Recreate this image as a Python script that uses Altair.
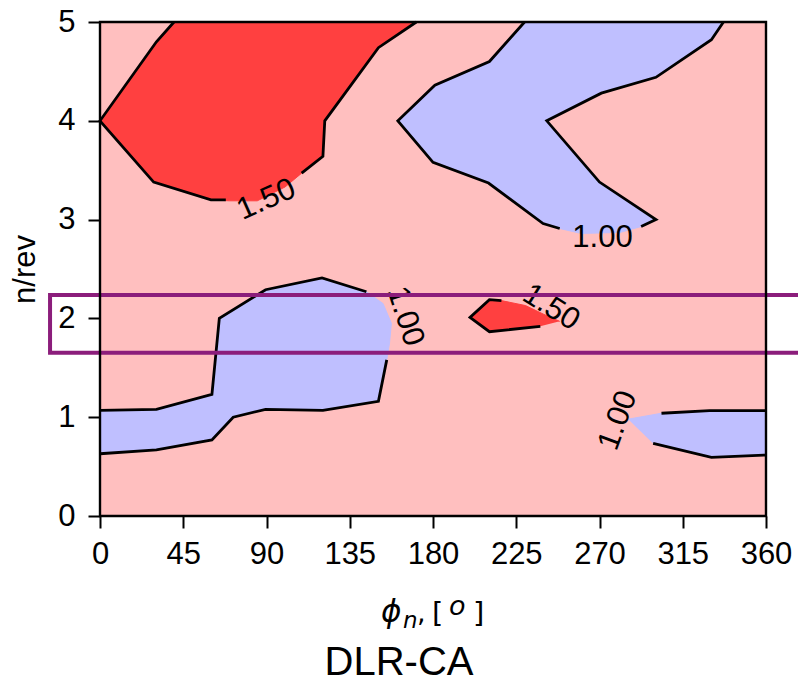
import altair as alt
import pandas as pd

# ---- filled contour regions (phi_n in degrees, n/rev) ----
# red region (level above 1.50), upper left
red_top_phi = [40, 30.5, 0, 29, 60, 70, 85, 100, 109, 120.5, 121.5, 150.5, 171]
red_top_n = [5.0, 4.8, 4.0, 3.38, 3.2, 3.19, 3.19, 3.33, 3.47, 3.64, 4.0, 4.74, 5.0]

# small red island near 2/rev
red_mid_phi = [238, 210.5, 200, 210.5, 217, 230, 240, 248.5]
red_mid_n = [1.92, 1.865, 2.01, 2.19, 2.18, 2.13, 2.04, 1.97]

# blue region (level below 1.00), upper right
blue_top_phi = [229.5, 210.5, 181, 161, 180, 210, 239.5, 248.5, 260, 281,
                292.5, 300.5, 270, 241.5, 271, 300.5, 330.5, 337]
blue_top_n = [5.0, 4.6, 4.36, 4.0, 3.58, 3.37, 2.96, 2.91, 2.86, 2.87,
              2.93, 3.0, 3.38, 4.0, 4.28, 4.44, 4.82, 5.0]

# blue band, left
blue_left_phi = [0, 30.5, 60.5, 64.5, 89.5, 120, 144, 153, 157.5, 156.5,
                 155, 150.5, 120.5, 89.5, 72, 60.5, 30.5, 0]
blue_left_n = [1.07, 1.08, 1.23, 2.0, 2.29, 2.41, 2.27, 2.15, 1.95, 1.75,
               1.58, 1.16, 1.07, 1.08, 1.0, 0.77, 0.67, 0.63]

# blue band, lower right
blue_right_phi = [285.5, 303.5, 329.5, 360, 360, 330.5, 299]
blue_right_n = [0.98, 1.04, 1.066, 1.066, 0.617, 0.594, 0.735]

# ---- contour line pieces (broken where labels sit) ----
line_pieces = {
    "red_top_a": ([40, 30.5, 0, 29, 60, 68], [5.0, 4.8, 4.0, 3.38, 3.2, 3.2]),
    "red_top_b": ([109, 120.5, 121.5, 150.5, 171], [3.47, 3.64, 4.0, 4.74, 5.0]),
    "red_mid": ([238, 210.5, 200, 210.5, 217], [1.92, 1.865, 2.01, 2.19, 2.18]),
    "blue_top_a": ([229.5, 210.5, 181, 161, 180, 210, 239.5, 248.5],
                   [5.0, 4.6, 4.36, 4.0, 3.58, 3.37, 2.96, 2.91]),
    "blue_top_b": ([292.5, 300.5, 270, 241.5, 271, 300.5, 330.5, 337],
                   [2.93, 3.0, 3.38, 4.0, 4.28, 4.44, 4.82, 5.0]),
    "blue_left_a": ([0, 30.5, 60.5, 64.5, 89.5, 120, 144],
                    [1.07, 1.08, 1.23, 2.0, 2.29, 2.41, 2.27]),
    "blue_left_b": ([155, 150.5, 120.5, 89.5, 72, 60.5, 30.5, 0],
                    [1.58, 1.16, 1.07, 1.08, 1.0, 0.77, 0.67, 0.63]),
    "blue_right_a": ([303.5, 329.5, 360], [1.04, 1.066, 1.066]),
    "blue_right_b": ([299, 330.5, 360], [0.735, 0.594, 0.617]),
}

# ---- contour labels ----
label_text = ["1.50", "1.00", "1.00", "1.50", "1.00"]
label_phi = [90, 271.6, 164.9, 243.8, 280]
label_n = [3.2, 2.81, 2.02, 2.11, 0.967]
label_angle = [336, 0, 72, 32, 290]

# highlighted 2/rev band
band_phi = [-27, 392]
band_n = [1.653, 2.237]

x_ticks = [0, 45, 90, 135, 180, 225, 270, 315, 360]
y_ticks = [0, 1, 2, 3, 4, 5]

PINK = "#ffbfbf"
BLUE = "#bfbfff"
RED = "#ff4040"
PURPLE = "#8b1d7b"
FONT = "Liberation Sans"
MATH = "DejaVu Sans"


def polygons(items):
    rows = []
    for name, phis, ns in items:
        for i, (p, n) in enumerate(zip(phis, ns)):
            rows.append({"region": name, "i": i, "phi": p, "n": n})
    return pd.DataFrame(rows)


red_df = polygons([("red_top", red_top_phi, red_top_n),
                   ("red_mid", red_mid_phi, red_mid_n)])
blue_df = polygons([("blue_top", blue_top_phi, blue_top_n),
                    ("blue_left", blue_left_phi, blue_left_n),
                    ("blue_right", blue_right_phi, blue_right_n)])
line_df = polygons([(k, v[0], v[1]) for k, v in line_pieces.items()])
label_df = pd.DataFrame({"text": label_text, "phi": label_phi,
                         "n": label_n, "angle": label_angle})
band_df = pd.DataFrame({"x1": [band_phi[0]], "x2": [band_phi[1]],
                        "y1": [band_n[0]], "y2": [band_n[1]]})
frame_df = pd.DataFrame({"x1": [0], "x2": [360], "y1": [0], "y2": [5]})

x_scale = alt.Scale(domain=[0, 360], nice=False, zero=False)
y_scale = alt.Scale(domain=[0, 5], nice=False, zero=False)

x_axis = alt.Axis(values=x_ticks, title=None, labelFontSize=31,
                  labelPadding=11, tickSize=12, tickWidth=2, tickColor="black",
                  domain=False, labelColor="black", labelFont=FONT,
                  grid=False, labelFlush=False, zindex=1)
y_axis = alt.Axis(values=y_ticks, title="n/rev", labelFontSize=31,
                  titleFontSize=31, titleFontWeight="normal", labelPadding=13,
                  tickSize=12, tickWidth=2, tickColor="black", domain=False,
                  labelColor="black", titleColor="black", labelFont=FONT,
                  titleFont=FONT, titlePadding=16, grid=False,
                  labelFlush=False, zindex=1)

X = alt.X("phi:Q", scale=x_scale, axis=x_axis)
Y = alt.Y("n:Q", scale=y_scale, axis=y_axis)

red_fill = alt.Chart(red_df).mark_line(
    fill=RED, stroke=RED, strokeWidth=1
).encode(x=X, y=Y, detail="region:N", order="i:Q")

blue_fill = alt.Chart(blue_df).mark_line(
    fill=BLUE, stroke=BLUE, strokeWidth=1
).encode(x=X, y=Y, detail="region:N", order="i:Q")

contours = alt.Chart(line_df).mark_line(
    color="black", strokeWidth=2.8, strokeJoin="miter"
).encode(x=X, y=Y, detail="region:N", order="i:Q")

labels = alt.Chart(label_df).mark_text(
    font=FONT, fontSize=31, color="black", align="center", baseline="middle"
).encode(x=X, y=Y, text="text:N", angle=alt.Angle("angle:Q", scale=None))

band = alt.Chart(band_df).mark_rect(
    fillOpacity=0, stroke=PURPLE, strokeWidth=4, clip=False
).encode(x=alt.X("x1:Q", scale=x_scale, axis=x_axis), x2="x2:Q",
         y=alt.Y("y1:Q", scale=y_scale, axis=y_axis), y2="y2:Q")

frame = alt.Chart(frame_df).mark_rect(
    fillOpacity=0, stroke="black", strokeWidth=2.4
).encode(x=alt.X("x1:Q", scale=x_scale, axis=x_axis), x2="x2:Q",
         y=alt.Y("y1:Q", scale=y_scale, axis=y_axis), y2="y2:Q")


# x-axis title set as math: phi_n, [^o]
def title_piece(text, left, base, size, style):
    return alt.Chart(pd.DataFrame({"t": [text]})).mark_text(
        font=MATH, fontSize=size, fontStyle=style, color="black",
        align="left", baseline="alphabetic"
    ).encode(text="t:N", x=alt.value(left), y=alt.value(base))


x_title = alt.layer(
    title_piece("ϕ", 281, 600, 31, "italic"),
    title_piece("n", 303, 606, 23, "italic"),
    title_piece(",", 317, 600, 27, "normal"),
    title_piece("[", 332, 601, 29, "normal"),
    title_piece("o", 349, 593, 27, "italic"),
    title_piece("]", 373, 601, 29, "normal"),
)

caption = alt.Chart(pd.DataFrame({"t": ["DLR-CA"]})).mark_text(
    font=FONT, fontSize=40, color="black", align="center",
    baseline="alphabetic"
).encode(text="t:N", x=alt.value(299), y=alt.value(653))

chart = alt.layer(
    red_fill, blue_fill, contours, labels, band, frame, x_title, caption
).properties(
    width=666, height=494,
    autosize=alt.AutoSizeParams(type="none"),
    padding={"left": 100, "top": 22, "right": 32, "bottom": 168},
    background="white",
).configure_view(fill=PINK, stroke=None)

chart.save("out.html", embed_options={"renderer": "svg", "actions": False})
